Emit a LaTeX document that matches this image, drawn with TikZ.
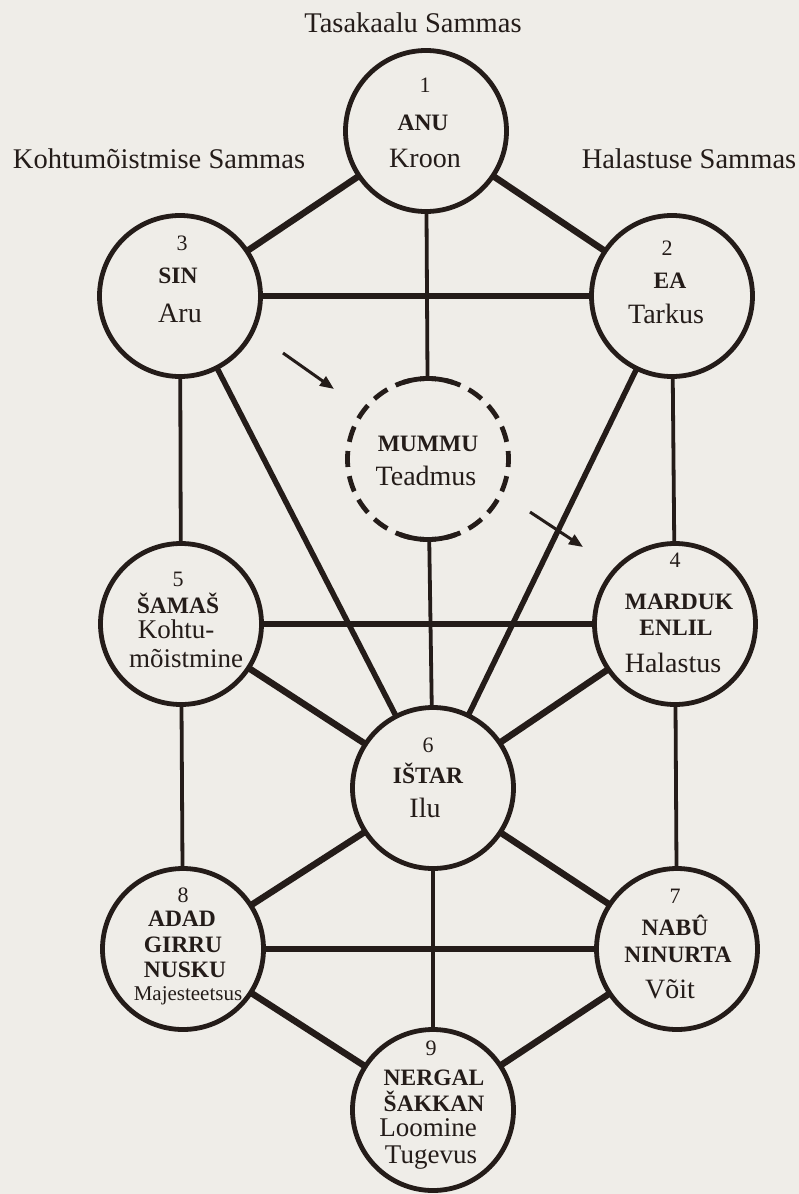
\documentclass[tikz,border=0pt]{standalone}
\usepackage{fontspec}
\setmainfont{Liberation Serif}
\usetikzlibrary{arrows.meta}
\definecolor{ink}{RGB}{36,28,25}
\definecolor{paper}{RGB}{239,237,232}
\begin{document}
\begin{tikzpicture}[x=1pt,y=-1pt,
  sef/.style={circle, draw=ink, line width=4.8pt, minimum size=161pt, inner sep=0pt, outer sep=0pt},
  dashsef/.style={sef, dash pattern=on 16pt off 9.29pt, dash phase=8pt},
  thickc/.style={draw=ink, line width=6.5pt},
  medc/.style={draw=ink, line width=5.5pt},
  thinc/.style={draw=ink, line width=3.8pt},
  arr/.style={draw=ink, line width=3pt, -{Triangle[length=14pt,width=11pt]}},
  pillar/.style={font=\fontsize{28.5}{30}\selectfont, text=ink, anchor=base, inner sep=0pt},
  num/.style={font=\fontsize{22}{24}\selectfont, text=ink, anchor=base, inner sep=0pt},
  god/.style={font=\bfseries\fontsize{23.5}{25}\selectfont, text=ink, anchor=base, inner sep=0pt},
  word/.style={font=\fontsize{28}{30}\selectfont, text=ink, anchor=base, inner sep=0pt},
  wordtight/.style={font=\fontsize{27}{29}\selectfont, text=ink, anchor=base, inner sep=0pt},
  wordsm/.style={font=\fontsize{21}{23}\selectfont, text=ink, anchor=base, inner sep=0pt}]
\fill[paper] (0,0) rectangle (799,1194);
\useasboundingbox (0,0) rectangle (799,1194);

% circles
\node[sef] (c1) at (426,131) {};
\node[sef] (c3) at (180,296) {};
\node[sef] (c2) at (672,296) {};
\node[dashsef] (cm) at (428,459) {};
\node[sef] (c5) at (181,624) {};
\node[sef] (c4) at (675,624) {};
\node[sef] (c6) at (433,788) {};
\node[sef] (c8) at (183,949) {};
\node[sef] (c7) at (677,949) {};
\node[sef] (c9) at (433,1110) {};

% solid arcs of the dashed circle
\draw[ink, line width=4.8pt] (cm.108) arc[start angle=108, end angle=72, radius=80.5pt];
\draw[ink, line width=4.8pt] (cm.250) arc[start angle=250, end angle=290, radius=80.5pt];

% connectors
\draw[thickc] (c1) -- (c3);
\draw[thickc] (c1) -- (c2);
\draw[thickc] (c3) -- (c2);
\draw[thickc] (c5) -- (c4);
\draw[thickc] (c5) -- (c6);
\draw[thickc] (c4) -- (c6);
\draw[thickc] (c6) -- (c8);
\draw[thickc] (c6) -- (c7);
\draw[thickc] (c8) -- (c7);
\draw[thickc] (c8) -- (c9);
\draw[thickc] (c7) -- (c9);
\draw[medc] (c3) -- (c6);
\draw[medc] (c2) -- (c6);
\draw[thinc] (c1) -- (cm);
\draw[thinc] (cm) -- (c6);
\draw[thinc] (c3) -- (c5);
\draw[thinc] (c2) -- (c4);
\draw[thinc] (c5) -- (c8);
\draw[thinc] (c4) -- (c7);
\draw[thinc] (c6) -- (c9);

% arrows
\coordinate (a1s) at (283,353);
\coordinate (a1e) at (334,389);
\coordinate (a2s) at (530,512);
\coordinate (a2e) at (583,547);
\draw[arr] (a1s) -- (a1e);
\draw[arr] (a2s) -- (a2e);

% pillar titles
\node[pillar] (p1) at (413,32) {Tasakaalu Sammas};
\node[pillar] (p2) at (159,168) {Kohtumõistmise Sammas};
\node[pillar] (p3) at (689,168) {Halastuse Sammas};

% texts
\node[num] (n1) at (425,92) {1};
\node[god] (g1) at (423,130) {ANU};
\node[word] (w1) at (425,167) {Kroon};

\node[num] (n3) at (182,250) {3};
\node[god] (g3) at (178,283) {SIN};
\node[word] (w3) at (180,322) {Aru};

\node[num] (n2) at (667,255) {2};
\node[god] (g2) at (670,288) {EA};
\node[word] (w2) at (666,323) {Tarkus};

\node[god] (gm) at (428,451) {MUMMU};
\node[word] (wm) at (426,485) {Teadmus};

\node[num] (n5) at (178,586) {5};
\node[god] (g5) at (178,613) {ŠAMAŠ};
\node[wordtight] (w5a) at (176,638) {Kohtu-};
\node[wordtight] (w5b) at (186,667) {mõistmine};

\node[num] (n4) at (675,567) {4};
\node[god] (g4a) at (679,609) {MARDUK};
\node[god] (g4b) at (676,635) {ENLIL};
\node[word] (w4) at (673,672) {Halastus};

\node[num] (n6) at (428,752) {6};
\node[god] (g6) at (428,783) {IŠTAR};
\node[word] (w6) at (425,817) {Ilu};

\node[num] (n8) at (183,902) {8};
\node[god] (g8a) at (182,926) {ADAD};
\node[god] (g8b) at (183,952) {GIRRU};
\node[god] (g8c) at (185,977) {NUSKU};
\node[wordsm] (s8) at (188,1000) {Majesteetsus};

\node[num] (n7) at (675,903) {7};
\node[god] (g7a) at (675,935) {NABÛ};
\node[god] (g7b) at (678,962) {NINURTA};
\node[word] (w7) at (670,998) {Võit};

\node[num] (n9) at (431,1055) {9};
\node[god] (g9a) at (434,1085) {NERGAL};
\node[god] (g9b) at (434,1111) {ŠAKKAN};
\node[wordtight] (w9a) at (428,1136) {Loomine};
\node[wordtight] (w9b) at (431,1163) {Tugevus};
\end{tikzpicture}
\end{document}
